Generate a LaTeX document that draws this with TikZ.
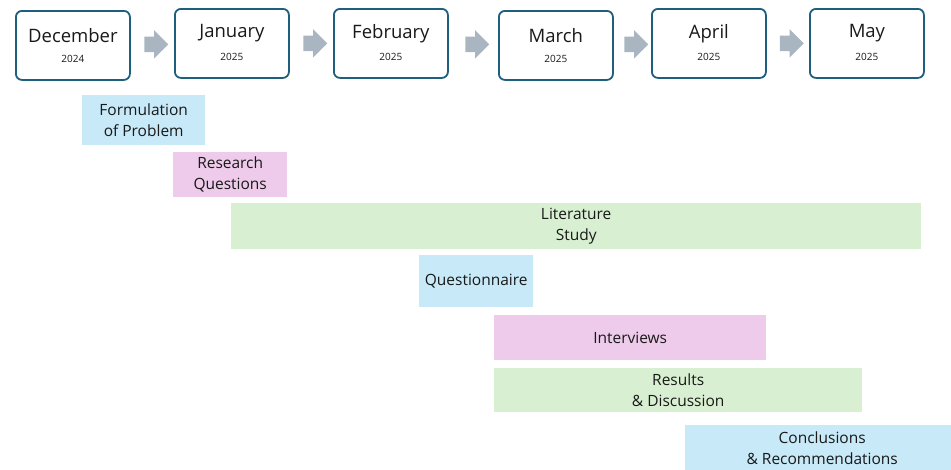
\documentclass[tikz,border=0pt]{standalone}
\usepackage{fontspec}
\setmainfont{Open Sans}
\usetikzlibrary{shapes.arrows,calc}
\definecolor{boxline}{HTML}{1F5F7E}
\definecolor{arrowgray}{HTML}{A9B5C1}
\definecolor{tblue}{HTML}{C7E9F8}
\definecolor{tpink}{HTML}{EECBEA}
\definecolor{tgreen}{HTML}{D8F0D1}
\begin{document}
\begin{tikzpicture}[x=1pt,y=-1pt,
  month/.style={draw=boxline, line width=1.8pt, rounded corners=6pt, fill=white,
    minimum width=114pt, minimum height=69pt, inner sep=0pt, anchor=north west},
  mname/.style={font=\fontsize{18.5}{22}\selectfont, text=black!90},
  myear/.style={font=\fontsize{10}{12}\selectfont, text=black!90},
  garrow/.style={single arrow, fill=arrowgray, draw=none, minimum height=24pt,
    inner xsep=0pt, inner ysep=7.5pt, single arrow head extend=6.5pt,
    single arrow tip angle=90, single arrow head indent=0pt},
  task/.style={draw=none, anchor=north west, inner sep=0pt, align=center,
    font=\fontsize{15.5}{21}\selectfont, text=black!90}
]
\useasboundingbox (0,0) rectangle (951,469);
% month boxes
\node[month] (dec) at (15,10) {};
\node[month] (jan) at (174,8) {};
\node[month] (feb) at (333,8) {};
\node[month] (mar) at (498,10) {};
\node[month] (apr) at (651,8) {};
\node[month] (may) at (809,8) {};
\foreach \m/\n/\y in {dec/December/2024, jan/January/2025, feb/February/2025, mar/March/2025, apr/April/2025, may/May/2025}{
  \node[mname] (\m-name) at ([yshift=10pt]\m.center) {\n};
  \node[myear] (\m-year) at ([yshift=-14pt]\m.center) {\y};
}
% arrows
\node[garrow] (a1) at ($(dec.east)!0.5!(jan.west)$) {};
\node[garrow] (a2) at ($(jan.east)!0.5!(feb.west)$) {};
\node[garrow] (a3) at ($(feb.east)!0.5!(mar.west)$) {};
\node[garrow] (a4) at ($(mar.east)!0.5!(apr.west)$) {};
\node[garrow] (a5) at ($(apr.east)!0.5!(may.west)$) {};
% tasks
\node[task, fill=tblue, minimum width=123pt, minimum height=50pt] (t1) at (82,95) {Formulation\\of Problem};
\node[task, fill=tpink, minimum width=114pt, minimum height=45pt] (t2) at (173,152) {Research\\Questions};
\node[task, fill=tgreen, minimum width=690pt, minimum height=46pt] (t3) at (231,203) {Literature\\Study};
\node[task, fill=tblue, minimum width=114pt, minimum height=52pt] (t4) at (419,255) {Questionnaire};
\node[task, fill=tpink, minimum width=272pt, minimum height=45pt] (t5) at (494,315) {Interviews};
\node[task, fill=tgreen, minimum width=368pt, minimum height=44pt] (t6) at (494,368) {Results\\\& Discussion};
\node[task, fill=tblue, minimum width=266pt, minimum height=46pt] (t7) at (685,425) {\hspace*{8pt}Conclusions\\\hspace*{8pt}\& Recommendations};
\end{tikzpicture}
\end{document}
